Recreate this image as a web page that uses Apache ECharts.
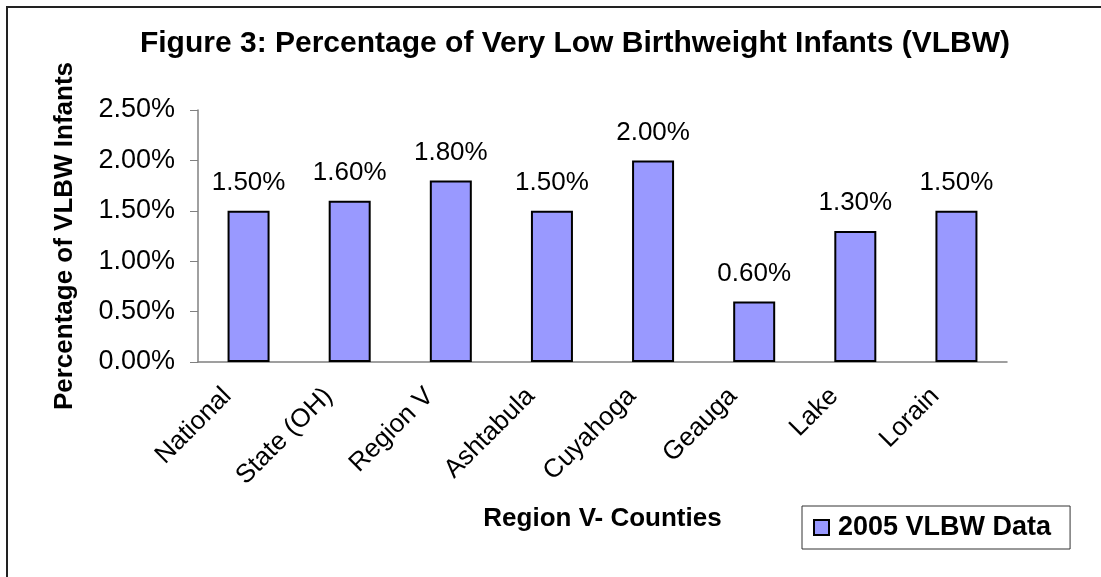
<!DOCTYPE html>
<html>
<head>
<meta charset="utf-8">
<script src="https://cdn.jsdelivr.net/npm/echarts@6/dist/echarts.min.js"></script>
<style>
  html, body { margin: 0; padding: 0; background: #fff; }
  #main { width: 1101px; height: 577px; }
</style>
</head>
<body>
<div id="main"></div>
<script>
// chart data
var counties = ['National', 'State (OH)', 'Region V', 'Ashtabula', 'Cuyahoga', 'Geauga', 'Lake', 'Lorain'];
var vlbw2005 = [1.5, 1.6, 1.8, 1.5, 2.0, 0.6, 1.3, 1.5];
var seriesName = '2005 VLBW Data';

var font = 'Liberation Sans, Arial, sans-serif';
var myChart = echarts.init(document.getElementById('main'));

var option = {
    animation: false,
    backgroundColor: '#fff',
    title: {
        text: 'Figure 3: Percentage of Very Low Birthweight Infants (VLBW)',
        left: 570,
        top: 24,
        textAlign: 'center',
        textStyle: { fontFamily: font, fontSize: 30, fontWeight: 'bold', color: '#000' }
    },
    legend: {
        data: [seriesName],
        left: 802,
        top: 506,
        orient: 'horizontal',
        padding: [8, 19, 8, 11],
        borderColor: '#333',
        borderWidth: 1,
        itemWidth: 15,
        itemHeight: 15,
        icon: 'rect',
        textStyle: { fontFamily: font, fontSize: 27, fontWeight: 'bold', color: '#000', padding: [0, 0, 0, 4] }
    },
    grid: { left: 198, right: 94, top: 110, bottom: 215 },
    xAxis: {
        type: 'category',
        data: counties,
        name: 'Region V- Counties',
        nameLocation: 'middle',
        nameGap: 144,
        nameTextStyle: { fontFamily: font, fontSize: 26, fontWeight: 'bold', color: '#000' },
        axisLine: { lineStyle: { color: '#808080', width: 1.5 } },
        axisTick: { length: 7, lineStyle: { color: '#333' } },
        axisLabel: {
            rotate: 45,
            margin: 9,
            padding: [0, 30, 0, 0],
            fontFamily: font,
            fontSize: 26,
            color: '#000'
        }
    },
    yAxis: {
        type: 'value',
        min: 0,
        max: 2.5,
        interval: 0.5,
        name: 'Percentage of VLBW Infants',
        nameLocation: 'middle',
        nameGap: 120,
        nameTextStyle: { fontFamily: font, fontSize: 26, fontWeight: 'bold', color: '#000' },
        splitLine: { show: false },
        axisLine: { show: true, lineStyle: { color: '#808080', width: 1.5 } },
        axisTick: { show: true, length: 8, lineStyle: { color: '#808080' } },
        axisLabel: {
            margin: 23,
            fontFamily: font,
            fontSize: 27,
            color: '#000',
            formatter: function (v) { return v.toFixed(2) + '%'; }
        }
    },
    series: [{
        name: seriesName,
        type: 'bar',
        data: vlbw2005,
        barWidth: 42,
        itemStyle: { color: '#9999FF', borderColor: '#000', borderWidth: 2 },
        label: {
            show: true,
            position: 'top',
            distance: 15,
            fontFamily: font,
            fontSize: 26,
            color: '#000',
            formatter: function (p) { return p.value.toFixed(2) + '%'; }
        }
    }],
    graphic: [{
        type: 'polyline',
        shape: { points: [[7, 577], [7, 7], [1101, 7]] },
        style: { stroke: '#222', lineWidth: 2, fill: null },
        silent: true
    }]
};
myChart.setOption(option);
</script>
</body>
</html>
